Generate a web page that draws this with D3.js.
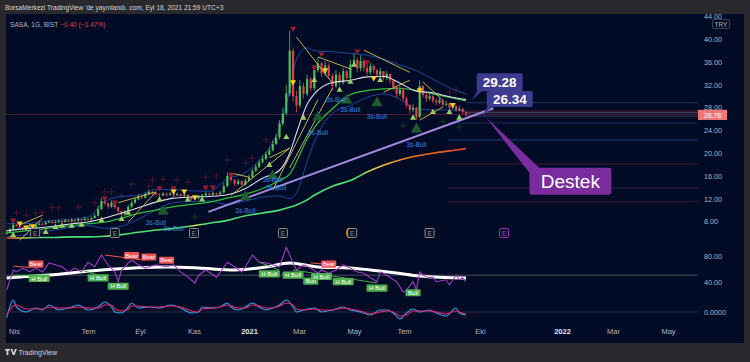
<!DOCTYPE html>
<html>
<head>
<meta charset="utf-8">
<script src="https://cdn.jsdelivr.net/npm/d3@7"></script>
<style>
  html, body { margin: 0; padding: 0; background: #29292d; }
  svg { display: block; }
  text { font-family: "Liberation Sans", Arial, sans-serif; }
</style>
</head>
<body>
<svg id="chart" width="750" height="362"></svg>
<script>
// ---- data ----
// one bar every 4 calendar days, starting here
const firstBar = new Date(2020, 2, 23);
const firstOpen = 5.8;
const closes = [6.0,6.6,7.4,7.2,7.0,6.7,6.9,7.3,7.0,7.4, 7.6,7.5,7.8,8.0,7.8,7.9,8.1,7.9,8.2,8.0,
  8.3,8.1,8.4,8.2,8.5,8.3,8.6,9.0,10.2,11.6, 11.2,10.6,11.3,10.5,9.8,9.2,9.7,10.6,11.3,11.9,
  12.4,12.2,12.8,13.2,13.0,12.8,12.6,12.9,12.7,12.9, 12.6,12.8,12.5,12.7,12.3,11.9,12.1,12.4,12.6,12.9,
  12.7,13.0,12.8,13.1,14.2,16.0,15.3,14.6,15.1,14.5, 15.2,15.8,16.9,17.6,18.4,19.0,19.8,20.5,21.6,22.8,
  25.2,27.0,30.5,38.0,30.0,28.4,31.8,30.4,33.0,31.4, 34.6,35.8,34.0,35.4,33.6,31.8,33.8,32.4,34.4,33.2,
  35.6,36.4,34.9,36.2,35.0,34.2,35.3,34.6,33.8,34.4, 33.2,33.9,32.8,31.6,30.4,31.2,29.6,28.4,27.6,27.9,
  26.4,31.8,30.2,29.6,30.0,29.2,28.9,29.3,28.5,28.7, 28.0,28.3,27.6,27.8,27.2,26.78];
const highs = [6.4,7.0,7.9,7.6,7.3,7.0,7.2,7.6,7.4,7.7, 7.9,7.8,8.1,8.3,8.1,8.2,8.4,8.2,8.5,8.3,
  8.6,8.4,8.7,8.5,8.8,8.6,8.9,9.4,10.8,12.2, 11.9,11.3,11.7,11.4,10.6,9.9,10.0,10.9,11.7,12.3,
  12.8,12.6,13.1,13.6,13.4,13.2,13.0,13.2,13.1,13.2, 13.0,13.1,12.9,13.0,12.8,12.4,12.4,12.7,12.9,13.2,
  13.0,13.3,13.1,13.4,14.8,16.6,16.3,15.5,15.5,15.3, 15.6,16.3,17.3,18.1,18.9,19.6,20.3,21.1,22.2,23.4,
  25.8,28.0,32.0,41.5,38.6,31.0,32.8,32.4,33.8,33.4, 35.4,36.8,36.0,36.2,35.8,34.0,34.6,34.2,35.0,34.6,
  36.4,37.6,36.8,37.2,36.6,35.6,35.9,35.6,34.8,35.0, 34.4,34.5,34.0,33.0,31.8,31.8,31.4,29.9,28.6,28.6,
  28.2,32.8,32.0,30.6,30.6,30.2,29.6,29.8,29.4,29.2, 28.9,28.8,28.5,28.3,28.0,27.4];
const lows = [5.7,5.9,6.5,7.0,6.8,6.5,6.6,6.8,6.8,6.9, 7.3,7.3,7.4,7.7,7.6,7.7,7.8,7.7,7.8,7.8,
  7.9,7.9,8.0,8.0,8.1,8.1,8.2,8.5,8.9,10.0, 10.8,10.2,10.4,10.2,9.5,8.9,9.0,9.5,10.4,11.1,
  11.7,11.9,12.0,12.6,12.7,12.5,12.3,12.4,12.4,12.5, 12.3,12.4,12.2,12.3,12.0,11.6,11.7,11.9,12.2,12.4,
  12.4,12.5,12.5,12.6,12.9,14.0,14.9,14.2,14.4,14.2, 14.3,15.0,15.6,16.7,17.4,18.2,18.8,19.5,20.3,21.4,
  22.4,24.8,26.6,30.0,29.0,27.2,28.0,29.6,30.0,30.8, 31.0,34.2,33.4,33.6,33.0,31.0,31.4,31.8,32.0,32.6,
  32.8,35.2,34.2,34.4,34.4,33.6,33.8,34.0,33.2,33.4, 32.8,32.8,32.2,31.0,29.8,30.0,29.0,28.0,27.0,27.2,
  25.8,26.2,29.8,29.0,29.2,28.8,28.4,28.6,28.0,28.2, 27.6,27.7,27.2,27.3,26.8,26.5];

// moving averages / bands, sampled at these bar numbers
const maIdx   = [0,5,10,15,20,25,30,35,40,45,50,55,60,65,70,75,80,83,85,88,90,95,100,105,110,115,120,125,130,135];
const ma20    = [6.4,6.7,6.9,7.2,7.6,7.9,8.6,9.5,10.4,11.4,12.1,12.3,12.4,12.7,13.8,15.6,17.0,20.0,23.5,28.6,30.4,32.4,32.8,33.4,33.5,32.3,30.9,30.6,29.9,29.4];
const ma50    = [6.0,6.3,6.6,7.0,7.3,7.6,7.9,8.6,9.4,10.0,10.6,11.0,11.4,12.1,12.8,13.8,15.2,16.3,18.5,22.5,24.5,27.8,30.3,31.0,31.3,31.4,31.0,30.4,29.8,29.2];
const bbUpper = [7.6,7.6,7.9,8.2,8.4,8.8,11.5,12.4,12.6,13.6,13.6,13.4,13.3,15.5,16.6,19.4,24.5,31.0,36.5,38.5,38.0,37.8,37.5,37.2,36.5,35.5,34.5,33.0,31.5,30.4];
const bbLower = [5.3,5.6,6.1,6.5,7.0,7.3,6.8,7.2,8.4,10.0,11.3,11.5,11.6,11.0,11.6,12.3,12.5,12.0,13.0,18.5,22.0,27.0,28.4,29.8,30.4,29.5,27.8,27.6,27.6,27.4];
const ma200   = [5.1,5.1,5.2,5.2,5.3,5.3,5.4,5.7,6.1,6.5,6.8,7.2,7.7,8.2,9.0,9.5,10.0,10.5,10.9,11.8,12.6,14.2,15.2,16.7,17.9,18.8,19.5,20.0,20.4,20.8];

// signal markers: [bar, price]
const redDown = [[2,8.2],[30,12.1],[33,11.4],[46,13.9],[50,13.9],[59,14.0],[61,14.0],[66,16.2],[84,41.9],[90,35.1],[92,37.4],[102,37.9],[105,36.0]];
const yellowDown = [[4,7.7],[6,7.0],[8,7.2],[50,13.3],[53,13.3],[56,12.3],[84,32.5],[93,34.6],[107,33.2],[121,31.1],[131,28.5]];
const greenUp = [[2,5.6],[9,6.1],[12,6.1],[15,7.0],[17,7.2],[20,7.2],[23,7.4],[29,8.2],[35,8.4],[37,9.5],[46,11.8],[54,11.8],[58,11.8],
  [77,17.9],[82,22.8],[87,26.2],[90,32.8],[97,31.1],[100,32.5],[101,35.5],[109,32.8],[119,26.2],[125,27.2],[130,27.2],[133,26.2]];
const bigUp = [[47,9.8],[70,12.3],[78,16.0],[91,26.3],[99,29.3],[108,28.8],[120,24.2]];
const bullTags = [[45,7.9],[50,6.7],[70,10.0],[78,15.4],[79,13.9],[91,23.7],[96,29.4],[100,27.6],[108,26.5],[120,21.6]];
const redCross = [[3,9.5],[6,9.1],[9,9.5],[11,9.6],[14,10.5],[16,10.4],[22,10.5],[27,11.3],[30,13.2],[32,13.2],[35,12.5],[38,14.6],
  [43,14.2],[44,15.3],[47,15.4],[51,15.3],[54,14.9],[59,15.8],[62,16.0],[65,18.8],[70,18.3],[72,19.1],[76,22.3],[78,21.9],[130,30.7],[132,31.1]];
const greenCross = [[47,10.0],[56,8.8],[116,24.9],[128,25.5],[133,24.6]];

// yellow trend lines: [bar1, price1, bar2, price2]
const trendLines = [[4,7.4,11,9.1],[4,4.7,11,8.6],[34,11.3,45,13.2],[37,7.9,45,13.2],[66,16.5,71,15.8],[66,12.6,83,20.9],
  [77,19.2,83,20.9],[83,17.4,95,31.4],[78,13.5,91,29.4],[85,40.4,95,32.3],[91,36.9,100,34.8],[104,38.1,118,34.2],
  [110,30.7,118,32.8],[122,32.5,128,29.3],[121,25.8,128,28.1]];

// support line (Destek)
const supportDates = ['2020-11-17', '2021-10-16'];
const supportPrices = [9.7, 27.9];

// horizontal levels on the right
const levelStart = ['2021-09-15','2021-09-15','2021-09-15','2021-09-15','2021-08-23','2021-08-23','2021-08-23','2021-08-23','2021-08-23'];
const levelPrices = [28.86, 27.4, 27.1, 26.5, 25.3, 22.3, 18.1, 13.9, 11.5];
const lastPrice = 26.78;

// callouts
const calloutDates = ['2021-09-21', '2021-10-03'];
const calloutPrices = [29.28, 26.34];
const destekDate = '2021-10-07';
const destekPrice = 26.4;

// earnings
const earningsDates = ['2020-04-27','2020-08-02','2020-11-01','2021-02-10','2021-04-29','2021-08-01','2021-10-28'];

// RSI pane
const rsiIdx = [0,2,3,5,7,9,11,13,15,17,19,21,23,25,27,29,31,33,34,35,37,38,40,42,45,48,50,52,54,56,57,59,62,65,67,69,70,72,74,76,78,80,82,
  84,85,87,89,91,92,94,96,98,100,102,104,106,108,109,110,113,114,116,117,119,120,121,122,124,125,126,129,130,132,133,134,135];
const rsiVals = [27,58,55,61,55,61,55,69,66,63,55,61,55,70,63,81,66,55,40,58,69,73,66,61,66,63,66,55,47,38,50,58,47,70,63,55,63,81,70,69,66,63,93,
  69,58,66,61,53,58,53,58,66,61,55,53,46,40,55,53,43,40,24,27,40,27,55,50,46,47,40,43,35,50,43,46,40];
const rsiMaIdx = [0,13,29,48,57,67,76,83,91,100,106,114,121,135];
const rsiMa = [45.7,50.3,58.0,62.6,61.1,58.0,62.6,68.8,62.6,61.1,58.0,53.4,48.8,45.7];
// divergence tags: [bar, rsi, text]
const bearTags = [[9,67,'Bear'],[38,80,'Bear'],[43,78,'Bear'],[48,73,'Bear'],[94,67,'Bear']];
const bullRsiTags = [[10,45,'H Bull'],[28,46,'H Bull'],[34,33,'H Bull'],[77,52,'H Bull'],[84,50,'H Bull'],[89,41,'Bull'],
  [92,48,'H Bull'],[98,40,'H Bull'],[108,30,'H Bull'],[119,23,'Bull']];
const bearLines = [[2,64,7,62],[30,81,42,73],[89,69,95,66]];
const bullLines = [[2,50,13,50],[23,58,30,47],[29,50,31,40],[74,70,80,58],[84,58,108,38]];

// oscillator pane
const oscIdx = [0,2,3,6,9,11,13,16,19,22,25,28,30,32,33,35,37,38,40,43,46,49,52,55,57,58,61,63,65,66,68,70,72,74,76,78,80,82,84,85,87,90,92,95,98,100,
  103,106,109,111,113,115,117,119,121,124,126,129,132,133,135];
const oscFast = [-6,12,5,0,4,2,7,2,4,7,2,5,10,5,0,-1,5,9,4,5,4,7,4,-1,0,5,4,5,9,5,2,5,9,5,2,4,7,12,5,0,2,4,0,2,5,2,
  0,-3,2,2,-1,-7,-1,3,0,2,-1,-4,4,-1,-3];
const oscSlow = [-3,6,7,3,3,3,5,4,4,5,4,4,7,7,3,1,3,6,6,5,5,6,5,1,0,3,4,5,7,6,4,4,7,6,4,4,6,9,7,3,2,3,2,2,4,3,
  1,-2,0,1,0,-4,-3,1,1,1,0,-2,1,0,-2];

// axes
const priceTicks = [44, 40, 36, 32, 28, 24, 20, 16, 12, 8];
const timeTickDates = ['2020-04-01','2020-07-01','2020-09-01','2020-11-01','2021-01-01','2021-03-01','2021-05-01','2021-07-01','2021-10-01','2022-01-01','2022-03-01','2022-05-01'];
const timeTickLabels = ['Nis','Tem','Eyl','Kas','2021','Mar','May','Tem','Eki','2022','Mar','May'];

// ---- drawing ----
const svg = d3.select('#chart');
const parse = d3.timeParse('%Y-%m-%d');
const barDate = k => d3.timeDay.offset(firstBar, 4 * k);

const x = d3.scaleTime()
  .domain(timeTickDates.map(parse))
  .range([14, 88, 140, 194, 249, 299, 354, 404, 480, 562, 613, 668]);
const yP = d3.scaleLinear().domain([8, 40]).range([221.5, 39.3]);
const yR = d3.scaleLinear().domain([40, 80]).range([281.7, 255.7]);
const yO = d3.scaleLinear().domain([-10, 20]).range([322, 292]);

const UP = '#4fbf55', DOWN = '#e0404c';

// frame and panel
svg.append('rect').attr('width', 750).attr('height', 362).attr('fill', '#29292d');
svg.append('rect').attr('x', 6).attr('y', 14).attr('width', 738).attr('height', 329).attr('fill', '#020b25');

const defs = svg.append('defs');
defs.append('clipPath').attr('id', 'pane').append('rect').attr('x', 6).attr('y', 14).attr('width', 738).attr('height', 329);
defs.append('clipPath').attr('id', 'plot').append('rect').attr('x', 6).attr('y', 14).attr('width', 692).attr('height', 228);
const grad = defs.append('linearGradient').attr('id', 'ma200grad')
  .attr('gradientUnits', 'userSpaceOnUse').attr('x1', 6).attr('x2', 468).attr('y1', 0).attr('y2', 0);
[[0, '#e8502a'], [0.03, '#e8b030'], [0.06, '#4ee070'], [0.39, '#4ee070'], [0.41, '#d9d84a'], [0.43, '#4ee070'],
 [0.76, '#4ee070'], [0.8, '#e6c83a'], [0.86, '#f08020'], [1, '#e8402e']]
  .forEach(s => grad.append('stop').attr('offset', s[0]).attr('stop-color', s[1]));

// header text
svg.append('text').attr('x', 5).attr('y', 10).attr('font-size', 6.6).attr('fill', '#d6d6d6')
  .text("BorsaMerkezi TradingView 'de yayınlandı. com, Eyl 18, 2021 21:59 UTC+3");

const plot = svg.append('g').attr('clip-path', 'url(#plot)');
const pane = svg.append('g').attr('clip-path', 'url(#pane)');

// last price line + level lines
plot.append('line').attr('x1', 6).attr('x2', 698).attr('y1', yP(lastPrice)).attr('y2', yP(lastPrice))
  .attr('stroke', '#4a1c36').attr('stroke-width', 1);
const levelColors = ['#26365a', '#5a1d36', '#4e5468', '#2e3c5c', '#1a2c58', '#1c3c7c', '#4a1632', '#2c2648', '#401430'];
plot.append('g').selectAll('line').data(levelPrices).join('line')
  .attr('x1', (d, i) => x(parse(levelStart[i]))).attr('x2', 698)
  .attr('y1', d => yP(d)).attr('y2', d => yP(d))
  .attr('stroke', (d, i) => levelColors[i]).attr('stroke-width', 1);

// crosses
function drawCross(data, color) {
  plot.append('g').selectAll('path').data(data).join('path')
    .attr('d', d => {
      const cx = x(barDate(d[0])), cy = yP(d[1]);
      return `M${cx - 3.5},${cy}H${cx + 3.5}M${cx},${cy - 3.5}V${cy + 3.5}`;
    })
    .attr('stroke', color).attr('stroke-width', 1);
}
drawCross(redCross, '#4a1630');
drawCross(greenCross, '#173a26');

// moving average lines
const maPath = vals => d3.line()
  .x((v, i) => x(barDate(maIdx[i])))
  .y(v => yP(v))
  .curve(d3.curveMonotoneX)(vals);
plot.append('path').attr('d', maPath(ma200)).attr('fill', 'none').attr('stroke', 'url(#ma200grad)').attr('stroke-width', 1.6);
plot.append('path').attr('d', maPath(bbUpper)).attr('fill', 'none').attr('stroke', '#1d46a0').attr('stroke-width', 1);
plot.append('path').attr('d', maPath(bbLower)).attr('fill', 'none').attr('stroke', '#1d46a0').attr('stroke-width', 1);
plot.append('path').attr('d', maPath(ma50)).attr('fill', 'none').attr('stroke', '#2ec23c').attr('stroke-width', 1.2);

// support line
plot.append('line')
  .attr('x1', x(parse(supportDates[0]))).attr('y1', yP(supportPrices[0]))
  .attr('x2', x(parse(supportDates[1]))).attr('y2', yP(supportPrices[1]))
  .attr('stroke', '#a58ae2').attr('stroke-width', 2);

// candles
const bars = closes.map((c, k) => ({
  date: barDate(k), open: k ? closes[k - 1] : firstOpen, close: c, high: highs[k], low: lows[k]
}));
const gBars = plot.append('g');
gBars.selectAll('line').data(bars).join('line')
  .attr('x1', d => x(d.date)).attr('x2', d => x(d.date))
  .attr('y1', d => yP(d.high)).attr('y2', d => yP(d.low))
  .attr('stroke', d => d.close >= d.open ? UP : DOWN).attr('stroke-width', 0.8);
gBars.selectAll('rect').data(bars).join('rect')
  .attr('x', d => x(d.date) - 1.1).attr('width', 2.2)
  .attr('y', d => yP(Math.max(d.open, d.close)))
  .attr('height', d => Math.max(1, Math.abs(yP(d.open) - yP(d.close))))
  .attr('fill', d => d.close >= d.open ? UP : DOWN);

plot.append('path').attr('d', maPath(ma20)).attr('fill', 'none').attr('stroke', '#dcdcec').attr('stroke-width', 1.1);

// yellow trend lines
plot.append('g').selectAll('line').data(trendLines).join('line')
  .attr('x1', d => x(barDate(d[0]))).attr('y1', d => yP(d[1]))
  .attr('x2', d => x(barDate(d[2]))).attr('y2', d => yP(d[3]))
  .attr('stroke', '#d9c24a').attr('stroke-width', 0.9);

// triangles
function drawTri(data, color, size, down) {
  plot.append('g').selectAll('path').data(data).join('path')
    .attr('d', d3.symbol(d3.symbolTriangle, size))
    .attr('transform', d => `translate(${x(barDate(d[0]))},${yP(d[1])}) rotate(${down ? 180 : 0})`)
    .attr('fill', color);
}
drawTri(bigUp, '#1d5a2c', 55, false);
drawTri(redDown, '#9a1a30', 16, true);
drawTri(yellowDown, '#f5d020', 16, true);
drawTri(greenUp, '#9ad060', 16, false);

plot.append('g').selectAll('text').data(bullTags).join('text')
  .attr('x', d => x(barDate(d[0]))).attr('y', d => yP(d[1]) + 2.5)
  .attr('text-anchor', 'middle').attr('font-size', 6.6).attr('fill', '#2f86e8')
  .text('3s-Bull');

// earnings markers
const gE = pane.append('g');
earningsDates.forEach((ds, i) => {
  const cx = x(parse(ds));
  const last = i === earningsDates.length - 1;
  const col = last ? '#a02cc0' : '#8a8a90';
  gE.append('rect').attr('x', cx - 4.5).attr('y', 228.5).attr('width', 9).attr('height', 9)
    .attr('fill', '#0b1222').attr('stroke', col).attr('stroke-width', 1).attr('rx', 1);
  gE.append('text').attr('x', cx).attr('y', 235.5).attr('text-anchor', 'middle')
    .attr('font-size', 6.5).attr('fill', col).text('E');
});
gE.append('path')
  .attr('d', `M${x(parse(earningsDates[4])) - 3},228 A6,6 0 0 0 ${x(parse(earningsDates[4])) - 3},238`)
  .attr('fill', 'none').attr('stroke', '#f08a1a').attr('stroke-width', 1.2);

// RSI pane
pane.append('line').attr('x1', 6).attr('x2', 698).attr('y1', yR(50)).attr('y2', yR(50))
  .attr('stroke', '#454a5a').attr('stroke-width', 1);
pane.append('line').attr('x1', 6).attr('x2', 698).attr('y1', yO(0)).attr('y2', yO(0))
  .attr('stroke', '#262c40').attr('stroke-width', 1);

pane.append('path')
  .attr('d', d3.line().x((v, i) => x(barDate(rsiMaIdx[i]))).y(v => yR(v)).curve(d3.curveMonotoneX)(rsiMa))
  .attr('fill', 'none').attr('stroke', '#ffffff').attr('stroke-width', 3);
pane.append('path')
  .attr('d', d3.line().x((v, i) => x(barDate(rsiIdx[i]))).y(v => yR(v))(rsiVals))
  .attr('fill', 'none').attr('stroke', '#a23cc6').attr('stroke-width', 1.1);

pane.append('g').selectAll('line').data(bearLines).join('line')
  .attr('x1', d => x(barDate(d[0]))).attr('y1', d => yR(d[1]))
  .attr('x2', d => x(barDate(d[2]))).attr('y2', d => yR(d[3]))
  .attr('stroke', '#f05454').attr('stroke-width', 1);
pane.append('g').selectAll('line').data(bullLines).join('line')
  .attr('x1', d => x(barDate(d[0]))).attr('y1', d => yR(d[1]))
  .attr('x2', d => x(barDate(d[2]))).attr('y2', d => yR(d[3]))
  .attr('stroke', '#46a84c').attr('stroke-width', 1);

function drawTags(data, fill) {
  const g = pane.append('g');
  data.forEach(d => {
    const cx = x(barDate(d[0])), cy = yR(d[1]);
    const w = d[2].length * 3 + 3;
    g.append('rect').attr('x', cx - w / 2).attr('y', cy - 3.6).attr('width', w).attr('height', 7.2)
      .attr('rx', 1).attr('fill', fill);
    g.append('text').attr('x', cx).attr('y', cy + 2.2).attr('text-anchor', 'middle')
      .attr('font-size', 6).attr('fill', '#ffffff').text(d[2]);
  });
}
drawTags(bearTags, '#f0525a');
drawTags(bullRsiTags, '#4caf50');

// oscillator pane
pane.append('path')
  .attr('d', d3.line().x((v, i) => x(barDate(oscIdx[i]))).y(v => yO(v)).curve(d3.curveMonotoneX)(oscFast))
  .attr('fill', 'none').attr('stroke', '#2fa0e8').attr('stroke-width', 1.1);
pane.append('path')
  .attr('d', d3.line().x((v, i) => x(barDate(oscIdx[i]))).y(v => yO(v)).curve(d3.curveMonotoneX)(oscSlow))
  .attr('fill', 'none').attr('stroke', '#e8226c').attr('stroke-width', 1.1);

// callouts
const calloutColor = '#3d3a90';
calloutPrices.forEach((p, i) => {
  const tx = x(parse(calloutDates[i])), ty = yP(p);
  const bx = tx + 5, by = ty - (i === 0 ? 27 : 26), bh = i === 0 ? 18 : 16;
  pane.append('path').attr('d', `M${tx},${ty}L${bx + 1},${by + bh - 1}L${bx + 6},${by + bh - 1}Z`).attr('fill', calloutColor);
  pane.append('rect').attr('x', bx).attr('y', by).attr('width', 46).attr('height', bh).attr('rx', 2).attr('fill', calloutColor);
  pane.append('text').attr('x', bx + 23).attr('y', by + bh / 2 + 4.8).attr('text-anchor', 'middle')
    .attr('font-size', 13.5).attr('font-weight', 'bold').attr('fill', '#ffffff').text(p.toFixed(2));
});
{
  const tx = x(parse(destekDate)), ty = yP(destekPrice);
  const bx = tx + 44, by = ty + 51;
  pane.append('path').attr('d', `M${tx},${ty}L${bx},${by + 5}L${bx + 10},${by}Z`).attr('fill', '#7a2c9e');
  pane.append('rect').attr('x', bx).attr('y', by).attr('width', 82).attr('height', 27).attr('rx', 3).attr('fill', '#7a2c9e');
  pane.append('text').attr('x', bx + 41).attr('y', by + 20).attr('text-anchor', 'middle')
    .attr('font-size', 19).attr('fill', '#ffffff').text('Destek');
}

// price axis
const styleAxis = g => {
  g.select('.domain').remove();
  g.selectAll('text').attr('fill', '#b2b5be').attr('font-size', 7.2).attr('font-family', 'Liberation Sans, Arial');
};
pane.append('g').attr('transform', 'translate(698,0)')
  .call(d3.axisRight(yP).tickValues(priceTicks).tickFormat(d3.format('.2f')).tickSize(0).tickPadding(6))
  .call(styleAxis);
pane.append('g').attr('transform', 'translate(698,0)')
  .call(d3.axisRight(yR).tickValues([80, 40]).tickFormat(d3.format('.2f')).tickSize(0).tickPadding(6))
  .call(styleAxis);
pane.append('g').attr('transform', 'translate(698,0)')
  .call(d3.axisRight(yO).tickValues([0]).tickFormat(d3.format('.4f')).tickSize(0).tickPadding(6))
  .call(styleAxis);

// last price tag
pane.append('rect').attr('x', 698).attr('y', yP(lastPrice) - 4.8).attr('width', 29).attr('height', 10.2).attr('fill', '#ef7677');
pane.append('text').attr('x', 712.5).attr('y', yP(lastPrice) + 3.1).attr('text-anchor', 'middle')
  .attr('font-size', 7).attr('fill', '#ffffff').text(lastPrice.toFixed(2));

// TRY box
pane.append('rect').attr('x', 712.5).attr('y', 19.5).attr('width', 17).attr('height', 9).attr('rx', 1.5)
  .attr('fill', 'none').attr('stroke', '#3a3f4e');
pane.append('text').attr('x', 721).attr('y', 26.5).attr('text-anchor', 'middle').attr('font-size', 6.5)
  .attr('fill', '#b2b5be').text('TRY');

// symbol line
const sym = pane.append('text').attr('x', 10).attr('y', 26.5).attr('font-size', 6.6);
sym.append('tspan').attr('fill', '#b2b5be').text('SASA, 1G, BIST  ');
sym.append('tspan').attr('fill', '#e0404c').text('\u22120.40 (\u22121.47%)');

// time axis
const gT = pane.append('g').attr('transform', 'translate(0,329)')
  .call(d3.axisBottom(x).tickValues(timeTickDates.map(parse))
    .tickFormat((d, i) => timeTickLabels[i]).tickSize(0).tickPadding(0));
gT.select('.domain').remove();
gT.selectAll('text').attr('fill', d => d.getMonth() === 0 ? '#e0e3eb' : '#b2b5be')
  .attr('font-weight', d => d.getMonth() === 0 ? 'bold' : 'normal')
  .attr('font-size', 7.5).attr('font-family', 'Liberation Sans, Arial');

// footer logo
svg.append('path').attr('d', 'M5,349h5v1.6h-1.6v4.4h-1.8v-4.4h-1.6z M10.6,349h1.9l1.2,4 1.2,-4h1.9l-2.2,6h-1.8z')
  .attr('fill', '#d1d4dc');
svg.append('text').attr('x', 18.5).attr('y', 355).attr('font-size', 7).attr('fill', '#d1d4dc').text('TradingView');
</script>
</body>
</html>
